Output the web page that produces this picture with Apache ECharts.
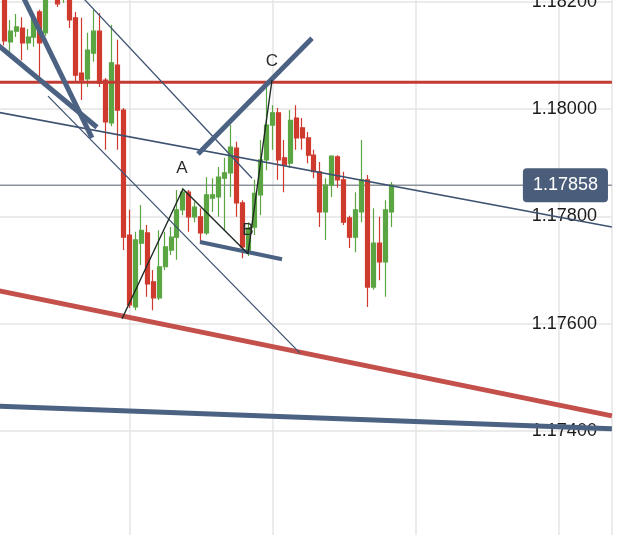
<!DOCTYPE html>
<html>
<head>
<meta charset="utf-8">
<script src="https://cdn.jsdelivr.net/npm/echarts@6/dist/echarts.min.js"></script>
<style>
  html, body { margin: 0; padding: 0; background: #fff; }
  #chart { width: 625px; height: 535px; }
</style>
</head>
<body>
<div id="chart"></div>
<script>
// candles sit on slots 3..68 of the x scale, one slot per bar
const firstSlot = 3
const opens = [1.18218, 1.18125, 1.18145, 1.18151, 1.18123, 1.18134, 1.18181, 1.18142, 1.18212, 1.18214, 1.18207, 1.18209, 1.18170, 1.18067, 1.18056, 1.18104, 1.18145, 1.18054, 1.17974, 1.18082, 1.17998, 1.17765, 1.17631, 1.17750, 1.17769, 1.17678, 1.17648, 1.17706, 1.17737, 1.17761, 1.17812, 1.17845, 1.17799, 1.17799, 1.17769, 1.17834, 1.17836, 1.17871, 1.17881, 1.17927, 1.17825, 1.17737, 1.17780, 1.17840, 1.17905, 1.17970, 1.17993, 1.17909, 1.17899, 1.17983, 1.17965, 1.17946, 1.17914, 1.17883, 1.17808, 1.17858, 1.17911, 1.17868, 1.17797, 1.17761, 1.17808, 1.17868, 1.17668, 1.17750, 1.17715, 1.17808]
const closes = [1.18127, 1.18145, 1.18153, 1.18123, 1.18134, 1.18170, 1.18123, 1.18212, 1.18240, 1.18196, 1.18226, 1.18166, 1.18063, 1.18054, 1.18110, 1.18145, 1.18048, 1.17976, 1.18086, 1.17998, 1.17761, 1.17635, 1.17756, 1.17774, 1.17674, 1.17648, 1.17706, 1.17743, 1.17761, 1.17812, 1.17845, 1.17799, 1.17817, 1.17769, 1.17840, 1.17840, 1.17873, 1.17881, 1.17929, 1.17825, 1.17743, 1.17778, 1.17843, 1.17905, 1.17970, 1.17993, 1.17905, 1.17896, 1.17979, 1.17946, 1.17946, 1.17914, 1.17883, 1.17808, 1.17858, 1.17912, 1.17868, 1.17789, 1.17761, 1.17812, 1.17868, 1.17668, 1.17750, 1.17715, 1.17812, 1.17858]
const lows = [1.18119, 1.18104, 1.18134, 1.18091, 1.18110, 1.18116, 1.18050, 1.18136, 1.18207, 1.18190, 1.18198, 1.18151, 1.18050, 1.18017, 1.18041, 1.18088, 1.18041, 1.17924, 1.17968, 1.17924, 1.17737, 1.17629, 1.17625, 1.17709, 1.17650, 1.17625, 1.17644, 1.17700, 1.17728, 1.17719, 1.17802, 1.17771, 1.17789, 1.17750, 1.17765, 1.17808, 1.17799, 1.17774, 1.17836, 1.17799, 1.17722, 1.17726, 1.17765, 1.17802, 1.17886, 1.17924, 1.17868, 1.17845, 1.17890, 1.17924, 1.17924, 1.17899, 1.17871, 1.17780, 1.17756, 1.17836, 1.17853, 1.17784, 1.17741, 1.17733, 1.17789, 1.17631, 1.17663, 1.17681, 1.17650, 1.17780]
const highs = [1.18226, 1.18166, 1.18177, 1.18171, 1.18149, 1.18179, 1.18185, 1.18222, 1.18250, 1.18229, 1.18231, 1.18218, 1.18181, 1.18170, 1.18142, 1.18185, 1.18179, 1.18058, 1.18157, 1.18129, 1.18002, 1.17812, 1.17771, 1.17821, 1.17784, 1.17700, 1.17774, 1.17771, 1.17780, 1.17849, 1.17853, 1.17849, 1.17827, 1.17815, 1.17873, 1.17871, 1.17892, 1.17909, 1.17970, 1.17939, 1.17830, 1.17789, 1.17868, 1.17942, 1.18045, 1.18007, 1.18002, 1.17942, 1.17998, 1.18007, 1.17983, 1.17957, 1.17924, 1.17901, 1.17871, 1.17914, 1.17914, 1.17883, 1.17801, 1.17845, 1.17942, 1.17877, 1.17815, 1.17799, 1.17830, 1.17864]

const lastPrice = 1.17858
const resistance = 1.18050

// drawn trend lines: [slot, price] end points
const redChannel = [[0, 1.17666], [105, 1.17428]]
const blueFloor = [[0, 1.17447], [105, 1.17404]]
const thinLong = [[0, 1.17998], [105, 1.17780]]
const thinUpper = [[14.05, 1.18233], [44.6, 1.17871]]
const thinLower = [[10.36, 1.18024], [52.65, 1.17545]]
const thickLeftA = [[0, 1.18137], [18.58, 1.17966]]
const thickLeftB = [[4.82, 1.18240], [17.74, 1.17946]]
const thickAC = [[35.53, 1.17916], [54.67, 1.18132]]
const thickB = [[35.87, 1.17752], [49.63, 1.17720]]
const wavePath = [[22.78, 1.17609], [33.01, 1.17851], [43.92, 1.17730], [47.95, 1.18054]]
const waveLabels = [[32.85, 1.17890, 'A'], [43.92, 1.17773, 'B'], [47.95, 1.18088, 'C']]

const RED = '#cf3a2f'
const GREEN = '#5ba543'
const SLATE = '#4b6283'
const FONT = 'Liberation Sans'

const candles = opens.map((o, i) => [firstSlot + i, o, closes[i], lows[i], highs[i]])

function trend (data, color, width, z) {
  return {
    type: 'line',
    data,
    symbol: 'none',
    silent: true,
    z: z || 3,
    lineStyle: { color, width }
  }
}

const chart = echarts.init(document.getElementById('chart'), null, { renderer: 'canvas' })

chart.setOption({
  animation: false,
  grid: { left: -13.7, right: 13.1, top: -105.6, bottom: -3.2, outerBoundsMode: 'none' },
  xAxis: {
    type: 'value',
    min: 0,
    max: 105,
    interval: 24,
    axisLine: { show: false },
    axisTick: { show: false },
    axisLabel: { show: false },
    splitLine: { show: true, lineStyle: { color: '#e4e4e4', width: 1.5 } }
  },
  yAxis: {
    type: 'value',
    position: 'right',
    min: 1.172,
    max: 1.184,
    interval: 0.002,
    axisLine: { show: false },
    axisTick: { show: false },
    axisLabel: {
      inside: true,
      margin: 15,
      showMinLabel: false,
      showMaxLabel: false,
      color: '#1a1a1a',
      fontFamily: FONT,
      fontSize: 18,
      formatter: v => v.toFixed(5)
    },
    splitLine: { show: true, lineStyle: { color: '#e4e4e4', width: 1.5 } }
  },
  series: [
    {
      type: 'candlestick',
      data: candles,
      encode: { x: 0, y: [1, 2, 3, 4] },
      barWidth: 4.5,
      z: 2,
      itemStyle: {
        color: GREEN,
        color0: RED,
        borderColor: GREEN,
        borderColor0: RED,
        borderWidth: 1.2
      }
    },
    trend([[0, lastPrice], [105, lastPrice]], '#8c939c', 1.5, 2),
    trend([[0, resistance], [105, resistance]], '#c23b33', 3),
    trend(redChannel, '#c4504b', 5),
    trend(blueFloor, SLATE, 5),
    trend(thinLong, '#3e5371', 1.5),
    trend(thinUpper, '#3e5371', 1.3),
    trend(thinLower, '#3e5371', 1.3),
    trend(thickLeftA, SLATE, 5),
    trend(thickLeftB, SLATE, 5),
    trend(thickAC, SLATE, 5),
    trend(thickB, SLATE, 4),
    trend(wavePath, '#1f2a24', 1.4),
    {
      type: 'scatter',
      data: waveLabels,
      symbolSize: 0,
      silent: true,
      z: 6,
      itemStyle: { opacity: 1 },
      label: {
        show: true,
        position: 'inside',
        formatter: p => p.value[2],
        color: '#2b2b2b',
        opacity: 1,
        fontFamily: FONT,
        fontSize: 17
      }
    },
    {
      type: 'scatter',
      data: [[97.2, lastPrice]],
      symbolSize: 0,
      silent: true,
      z: 7,
      itemStyle: { opacity: 1 },
      label: {
        show: true,
        position: 'inside',
        formatter: lastPrice.toFixed(5),
        color: '#fff',
        opacity: 1,
        fontFamily: FONT,
        fontSize: 18,
        backgroundColor: '#4a5d7a',
        borderRadius: 4,
        padding: [8, 10]
      }
    }
  ]
})
</script>
</body>
</html>
